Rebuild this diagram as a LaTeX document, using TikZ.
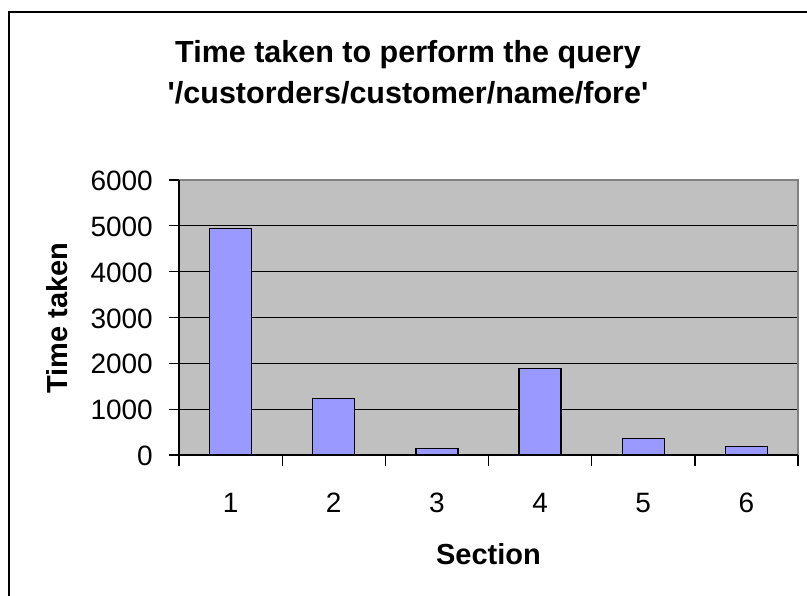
\documentclass[tikz,border=0pt]{standalone}
\usepackage{fontspec}
\setmainfont{Liberation Sans}[Ligatures=TeXOff]
\begin{document}
\begin{tikzpicture}[x=1pt,y=-1pt,
  titlefont/.style={font=\fontsize{30.5}{35}\selectfont\bfseries, inner sep=0pt},
  axtitle/.style={font=\fontsize{29}{34}\selectfont\bfseries, inner sep=0pt},
  ticklab/.style={font=\fontsize{28}{32}\selectfont, inner sep=0pt},
  gridline/.style={black, line width=0.9pt},
  axisline/.style={black, line width=1.8pt},
  plotborder/.style={draw=black!50, line width=1.8pt},
  barbox/.style={fill=barblue, draw=black, line width=1.4pt},
]
\definecolor{barblue}{HTML}{9999FF}
\definecolor{plotgray}{HTML}{C0C0C0}
\useasboundingbox (0,0) rectangle (807,596);
\fill[white] (0,0) rectangle (807,596);
\begin{scope}
\clip (0,0) rectangle (807,596);
\draw[black, line width=2pt] (9,640) -- (9,12) -- (850,12);
\end{scope}
% plot area
\fill[plotgray] (179,180) rectangle (798,455);
\foreach \v in {1,2,3,4,5}{
  \draw[gridline] (179,{455-\v*45.8333}) -- (798,{455-\v*45.8333});
}
% bars
\foreach \i/\v in {1/4.940,2/1.237,3/0.146,4/1.891,5/0.364,6/0.190}{
  \pgfmathsetmacro{\cx}{179+(\i-0.5)*103.17}
  \draw[barbox] ({\cx-21},455) rectangle ({\cx+21},{455-\v*45.8333});
}
\draw[plotborder] (179,180) -- (798,180) -- (798,455);
% axes
\draw[axisline] (179,180) -- (179,455) -- (798,455);
\foreach \v/\lab in {0/0,1/1000,2/2000,3/3000,4/4000,5/5000,6/6000}{
  \draw[axisline, line width=1.3pt] (169,{455-\v*45.8333}) -- (179,{455-\v*45.8333});
  \node[ticklab, anchor=east] (y\v) at (153,{456-\v*45.8333}) {\lab};
}
\foreach \k in {0,...,6}{
  \draw[axisline, line width=1.3pt] ({179+\k*103.17},455) -- ({179+\k*103.17},466);
}
\foreach \i in {1,...,6}{
  \node[ticklab, anchor=base] (x\i) at ({179+(\i-0.5)*103.17},512) {\i};
}
% titles
\node[titlefont, anchor=base] (t1) at (408,63) {Time taken to perform the query};
\node[titlefont, anchor=base] (t2) at (408,104) {'/custorders/customer/name/fore'};
\node[axtitle, anchor=base] (xt) at (488.5,564) {Section};
\node[axtitle, anchor=base, rotate=90] (yt) at (67,318) {Time taken};
\end{tikzpicture}
\end{document}
